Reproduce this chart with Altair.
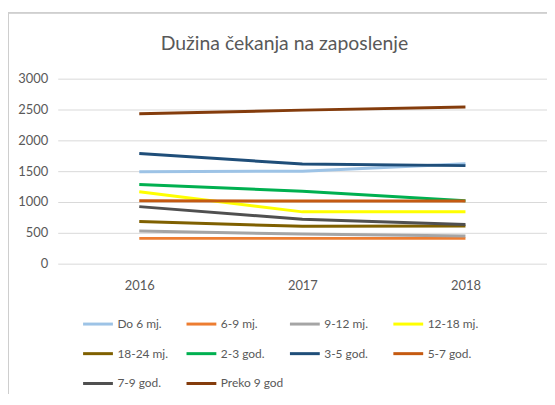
import altair as alt
import pandas as pd

years = ["2016", "2017", "2018"]
series = ["Do 6 mj.", "6-9 mj.", "9-12 mj.", "12-18 mj.", "18-24 mj.",
          "2-3 god.", "3-5 god.", "5-7 god.", "7-9 god.", "Preko 9 god"]
values = {
    "Do 6 mj.":    [1490, 1500, 1620],
    "6-9 mj.":     [410, 410, 410],
    "9-12 mj.":    [530, 480, 450],
    "12-18 mj.":   [1165, 840, 840],
    "18-24 mj.":   [685, 605, 610],
    "2-3 god.":    [1285, 1175, 1020],
    "3-5 god.":    [1785, 1615, 1590],
    "5-7 god.":    [1020, 1015, 1015],
    "7-9 god.":    [925, 720, 635],
    "Preko 9 god": [2430, 2490, 2540],
}
colors = ["#9dc3e6", "#ed7d31", "#a5a5a5", "#ffff00", "#7f6000",
          "#00b050", "#1f4e79", "#c55a11", "#505050", "#843c0c"]
y_ticks = [0, 500, 1000, 1500, 2000, 2500, 3000]

rows = []
for s in series:
    for yr, v in zip(years, values[s]):
        rows.append({"Godina": yr, "Broj": v, "Kategorija": s})
df = pd.DataFrame(rows)

frame_color = "#cfcfcf"

lines = alt.Chart(df).mark_line(strokeWidth=3).encode(
    x=alt.X("Godina:N", sort=years, title=None,
            scale=alt.Scale(paddingInner=0, paddingOuter=0.5),
            axis=alt.Axis(labelAngle=0, ticks=False, domain=False, grid=False,
                          labelPadding=16, labelFontSize=13, labelColor="#595959",
                          labelFont="Lato")),
    y=alt.Y("Broj:Q", title=None,
            scale=alt.Scale(domain=[0, 3000]),
            axis=alt.Axis(values=y_ticks, format="d", ticks=False, domain=False,
                          gridColor="#d9d9d9", gridWidth=1,
                          labelPadding=10, labelFontSize=13, labelColor="#595959",
                          labelFont="Lato")),
    color=alt.Color("Kategorija:N", sort=series,
                    scale=alt.Scale(domain=series, range=colors),
                    legend=alt.Legend(orient="none", legendX=24, legendY=230,
                                      direction="horizontal",
                                      columns=4, title=None, symbolType="stroke",
                                      symbolSize=900, symbolStrokeWidth=3,
                                      gridAlign="all", columnPadding=0, rowPadding=7,
                                      labelFontSize=12, labelColor="#595959",
                                      labelFont="Lato", labelOffset=3, padding=0)),
    order=alt.Order("Godina:N"),
)

frame_left = alt.Chart(df).mark_rule(color=frame_color, strokeWidth=1).encode(
    x=alt.value(-49.5), y=alt.value(-67), y2=alt.value(330))
frame_top = alt.Chart(df).mark_rule(color=frame_color, strokeWidth=1).encode(
    x=alt.value(-50), x2=alt.value(500), y=alt.value(-66.5))

chart = alt.layer(frame_left, frame_top, lines).properties(
    width=492, height=186,
    padding={"left": 50, "top": 70, "right": 0, "bottom": 130},
    autosize=alt.AutoSizeParams(type="none"),
    title=alt.TitleParams("Dužina čekanja na zaposlenje", fontSize=19.5,
                          font="Lato", fontWeight="normal", color="#595959",
                          anchor="middle", dx=-18, offset=-43),
).configure_view(stroke=None)

chart.save("out.html", embed_options={"renderer": "svg", "actions": False})
